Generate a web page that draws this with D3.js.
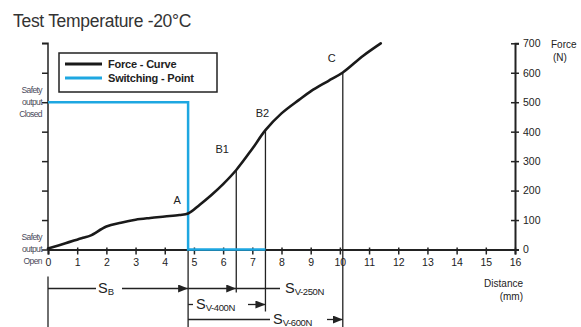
<!DOCTYPE html>
<html>
<head>
<meta charset="utf-8">
<script src="https://cdn.jsdelivr.net/npm/d3@7.9.0/dist/d3.min.js"></script>
<style>
  html, body { margin: 0; padding: 0; background: #fff; }
  svg { display: block; font-family: "Liberation Sans", Arial, sans-serif; }
</style>
</head>
<body>
<div id="chart"></div>
<script>
// --- data ---
const distance = [0, 0.6, 1.2, 1.45, 2.0, 2.5, 3.0, 3.5, 4.0, 4.5, 4.8, 5.2, 5.6, 6.0, 6.45, 7.0, 7.45, 8.0, 8.6, 9.0, 9.6, 10.1, 10.8, 11.4];
const force    = [3, 21, 40, 47, 78, 91, 101, 107, 112, 117, 122, 152, 185, 222, 270, 342, 405, 462, 508, 537, 572, 601, 658, 700];

const switchDist  = [0, 4.8, 4.8, 7.45];
const switchForce = [500, 500, 0, 0];

const pointLabels = ["A", "B1", "B2", "C"];
const pointDist   = [4.8, 6.45, 7.45, 10.1];
const pointForce  = [122, 270, 405, 601];

const xTicks = d3.range(0, 17);
const yTicks = d3.range(0, 800, 100);

const legendLabels = ["Force - Curve", "Switching - Point"];

// --- layout ---
const width = 581, height = 327;
const x = d3.scaleLinear().domain([0, 16]).range([48, 515]);
const y = d3.scaleLinear().domain([0, 700]).range([249.5, 43.3]);
const ink = "#222";
const blue = "#1ea7e1";

const svg = d3.select("#chart").append("svg")
  .attr("width", width).attr("height", height)
  .attr("viewBox", `0 0 ${width} ${height}`);
svg.append("rect").attr("width", width).attr("height", height).attr("fill", "#fff");

// title
svg.append("text")
  .attr("x", 13).attr("y", 27)
  .attr("font-size", 17.5).attr("fill", "#333")
  .attr("letter-spacing", -0.3)
  .text("Test Temperature -20°C");

// --- axes ---
// bottom axis
const xAxis = svg.append("g")
  .attr("transform", `translate(0,${y(0)})`)
  .call(d3.axisBottom(x).tickValues(xTicks).tickSize(5).tickPadding(4));
xAxis.select(".domain").attr("stroke", ink).attr("stroke-width", 2);
xAxis.selectAll(".tick line").attr("stroke", ink).attr("stroke-width", 1.5).attr("y1", -2);
xAxis.selectAll(".tick text").attr("font-size", 10.5).attr("fill", ink)
  .attr("font-family", "Liberation Sans, Arial, sans-serif");

// right axis
const yAxis = svg.append("g")
  .attr("transform", `translate(${x(16)},0)`)
  .call(d3.axisRight(y).tickValues(yTicks).tickSize(4).tickPadding(4));
yAxis.select(".domain").attr("stroke", ink).attr("stroke-width", 2);
yAxis.selectAll(".tick line").attr("stroke", ink).attr("stroke-width", 1.5).attr("x1", -4);
yAxis.selectAll(".tick text").attr("font-size", 10.5).attr("fill", ink)
  .attr("font-family", "Liberation Sans, Arial, sans-serif");

// left axis (no labels)
const lAxis = svg.append("g")
  .attr("transform", `translate(${x(0)},0)`)
  .call(d3.axisLeft(y).tickValues(yTicks).tickSize(6).tickFormat(""));
lAxis.select(".domain").attr("stroke", ink).attr("stroke-width", 1.5).attr("d", `M-6,${y(700)}H0V${y(0)}`);
lAxis.selectAll(".tick line").attr("stroke", ink).attr("stroke-width", 1.5);

// axis titles
svg.append("text").attr("x", 551).attr("y", 48).attr("font-size", 10).attr("fill", ink).text("Force");
svg.append("text").attr("x", 553).attr("y", 61).attr("font-size", 10).attr("fill", ink).text("(N)");
svg.append("text").attr("x", 523).attr("y", 287).attr("text-anchor", "end").attr("font-size", 10).attr("fill", ink).text("Distance");
svg.append("text").attr("x", 523).attr("y", 300).attr("text-anchor", "end").attr("font-size", 10).attr("fill", ink).text("(mm)");

// safety output labels
function stackLabel(lines, cy) {
  const t = svg.append("text").attr("text-anchor", "end").attr("font-size", 8.5)
    .attr("fill", "#4a4a5a").attr("letter-spacing", -0.6);
  lines.forEach((s, i) => {
    t.append("tspan").attr("x", 42).attr("y", cy + (i - 1) * 12 + 3).text(s);
  });
}
stackLabel(["Safety", "output", "Closed"], y(500));
stackLabel(["Safety", "output", "Open"], y(0) - 1);

// --- vertical guide lines ---
const guideBottom = [height, y(0) + 43, y(0) + 62, height];
pointDist.forEach((d, i) => {
  svg.append("line")
    .attr("x1", x(d)).attr("x2", x(d))
    .attr("y1", y(pointForce[i])).attr("y2", guideBottom[i])
    .attr("stroke", ink).attr("stroke-width", 1.3);
});
svg.append("line").attr("x1", x(0)).attr("x2", x(0))
  .attr("y1", y(0) + 27).attr("y2", height)
  .attr("stroke", ink).attr("stroke-width", 1.3);

// --- switching point ---
svg.append("path")
  .datum(d3.zip(switchDist, switchForce))
  .attr("fill", "none").attr("stroke", blue).attr("stroke-width", 2.5)
  .attr("d", d3.line().x(d => x(d[0])).y(d => y(d[1])));

// --- force curve ---
svg.append("path")
  .datum(d3.zip(distance, force))
  .attr("fill", "none").attr("stroke", "#1a1a1a").attr("stroke-width", 2.6)
  .attr("stroke-linejoin", "round").attr("stroke-linecap", "round")
  .attr("d", d3.line().curve(d3.curveCatmullRom.alpha(0.5)).x(d => x(d[0])).y(d => y(d[1])));

// point labels
const labelOffset = [[-11, -10], [-14, -17], [-3, -13], [-11, -10]];
pointLabels.forEach((s, i) => {
  svg.append("text")
    .attr("x", x(pointDist[i]) + labelOffset[i][0])
    .attr("y", y(pointForce[i]) + labelOffset[i][1])
    .attr("text-anchor", "middle").attr("font-size", 11).attr("fill", ink)
    .text(s);
});

// --- legend ---
const lg = svg.append("g");
lg.append("rect").attr("x", 59).attr("y", 53).attr("width", 158).attr("height", 39)
  .attr("fill", "#fff").attr("stroke", ink).attr("stroke-width", 1.5);
[ "#1a1a1a", blue ].forEach((c, i) => {
  lg.append("line").attr("x1", 65).attr("x2", 102).attr("y1", 64 + i * 14).attr("y2", 64 + i * 14)
    .attr("stroke", c).attr("stroke-width", 3);
  lg.append("text").attr("x", 108).attr("y", 68 + i * 14)
    .attr("font-size", 11).attr("font-weight", "bold").attr("fill", ink)
    .attr("letter-spacing", -0.2)
    .text(legendLabels[i]);
});

// --- dimension lines ---
const defs = svg.append("defs");
defs.append("marker").attr("id", "arr").attr("viewBox", "0 0 10 8")
  .attr("refX", 10).attr("refY", 4).attr("markerWidth", 10).attr("markerHeight", 8)
  .attr("markerUnits", "userSpaceOnUse").attr("orient", "auto")
  .append("path").attr("d", "M0,0L10,4L0,8Z").attr("fill", ink);

function seg(d0, d1, yy, arrow) {
  const l = svg.append("line").attr("x1", x(d0)).attr("x2", x(d1))
    .attr("y1", yy).attr("y2", yy).attr("stroke", ink).attr("stroke-width", 1.3);
  if (arrow) l.attr("marker-end", "url(#arr)");
}
function segPx(x0, x1, yy, arrow) {
  const l = svg.append("line").attr("x1", x0).attr("x2", x1)
    .attr("y1", yy).attr("y2", yy).attr("stroke", ink).attr("stroke-width", 1.3);
  if (arrow) l.attr("marker-end", "url(#arr)");
}
function sLabel(xx, yy, sub) {
  const t = svg.append("text").attr("x", xx).attr("y", yy + 4.5)
    .attr("font-size", 14.5).attr("fill", ink);
  t.append("tspan").text("S");
  t.append("tspan").attr("font-size", 9.5).attr("dy", 1.5).attr("letter-spacing", -0.4).text(sub);
}

const row0 = y(0) + 39, row1 = y(0) + 55, row2 = y(0) + 70;
// S_B
segPx(x(0), 96, row0, false);
sLabel(98, row0, "B");
segPx(122, x(4.8), row0, true);
// S_V-250N
seg(4.8, 6.45, row0, true);
segPx(x(6.45), 280, row0, false);
sLabel(285, row0, "V-250N");
// S_V-400N
segPx(x(4.8), 193, row1, false);
sLabel(196, row1, "V-400N");
segPx(248, x(7.45), row1, true);
// S_V-600N
segPx(x(4.8), 270, row2, false);
sLabel(273, row2, "V-600N");
segPx(327, x(10.1), row2, true);
</script>
</body>
</html>
